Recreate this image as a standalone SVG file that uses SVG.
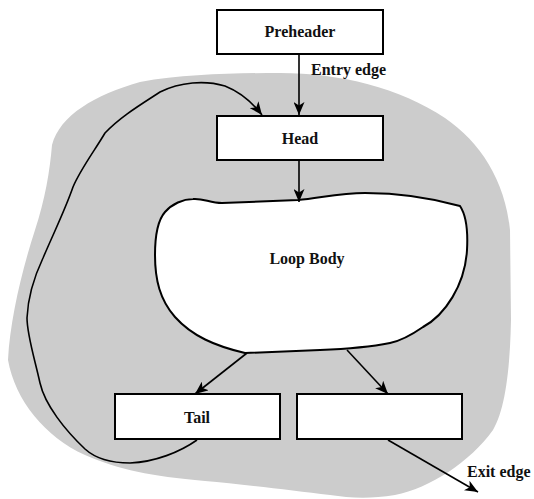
<svg xmlns="http://www.w3.org/2000/svg" width="534" height="499" viewBox="0 0 534 499">
<style>
.box{fill:#fff;stroke:#000;stroke-width:2}
.edge{fill:none;stroke:#000;stroke-width:1.6}
.lbl{font-family:"Liberation Serif","Times New Roman",serif;font-weight:bold;font-size:16px;fill:#111}
.mid{text-anchor:middle}
</style>
<defs>
<marker id="ah" viewBox="0 0 13 11" refX="13" refY="5.5" markerWidth="13" markerHeight="11" markerUnits="userSpaceOnUse" orient="auto">
<path d="M0,0 L13,5.5 L0,11 L3.5,5.5 Z" fill="#000"/>
</marker>
</defs>
<g id="loop-region">
<path d="M280,73 C340,73 400,88 445,118 C480,142 505,180 510,230 L511,320 C510,370 505,410 493,430 C470,462 430,488 395,495 C370,499 350,498 330,495 C290,490 240,484 205,481 C150,476 120,470 85,455 C45,437 15,400 8,360 C10,320 22,270 35,230 C45,200 50,170 52,145 C60,115 95,95 140,82 C185,74 235,73 280,73 Z" fill="#cccccc"/>
</g>
<g id="loop-body">
<path d="M193,199 C203,198 210,203 222,203 L298,200 C320,198 340,193 365,193 C400,193 435,199 460,206 C466,215 468,232 467,250 C465,285 445,315 423,327 C410,336 400,341 390,343 C370,347 345,349 320,350 L245,353 C215,346 192,336 175,317 C160,300 155,280 155,255 C155,235 158,220 165,212 C172,204 183,199 193,199 Z" fill="#fff" stroke="#000" stroke-width="2"/>
<text class="lbl mid" x="307" y="264">Loop Body</text>
</g>
<g id="preheader">
<rect class="box" x="217" y="10" width="166" height="44"/>
<text class="lbl mid" x="300" y="37">Preheader</text>
</g>
<g id="head">
<rect class="box" x="217" y="116" width="166" height="44"/>
<text class="lbl mid" x="300" y="144">Head</text>
</g>
<g id="tail">
<rect class="box" x="115" y="394" width="165" height="45"/>
<text class="lbl mid" x="197" y="423">Tail</text>
</g>
<g id="exit-block">
<rect class="box" x="297" y="394" width="165" height="45"/>
</g>
<g id="connectors">
<line class="edge" x1="299" y1="55" x2="299" y2="115" marker-end="url(#ah)"/>
<text class="lbl" x="311" y="75">Entry edge</text>
<line class="edge" x1="299" y1="161" x2="299" y2="202" marker-end="url(#ah)"/>
<line class="edge" x1="247" y1="353" x2="195" y2="394" marker-end="url(#ah)"/>
<line class="edge" x1="347" y1="350" x2="388" y2="394" marker-end="url(#ah)"/>
<line class="edge" x1="388" y1="440" x2="478" y2="492" marker-end="url(#ah)"/>
<text class="lbl" x="467" y="477">Exit edge</text>
<path class="edge" d="M197,440 C180,452 155,462 130,463 C110,463 95,458 85,449 C65,430 45,405 40,383 C35,360 27,335 27,318 C28,295 35,275 43,258 C55,230 65,210 73,187 C80,170 95,150 105,133 C120,117 140,105 160,92 C180,82 205,80 225,86 C240,92 252,102 262,115" marker-end="url(#ah)"/>
</g>
</svg>
